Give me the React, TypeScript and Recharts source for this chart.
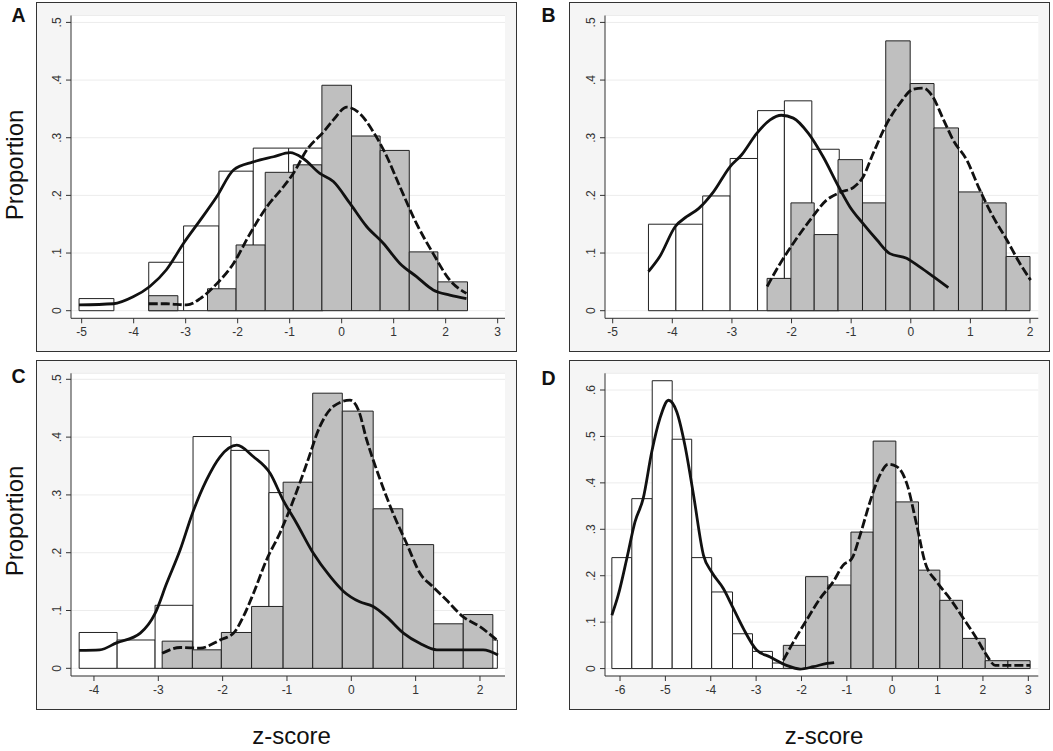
import React from 'react';
import { ComposedChart, Line, XAxis, YAxis, CartesianGrid, ReferenceArea } from 'recharts';

type Pt = [number, number];

// Panel A
const A_WHITE_EDGES = [-5.05, -4.38, -3.71, -3.04, -2.36, -1.7, -1.02, -0.36];
const A_WHITE_HEIGHTS = [0.021, 0, 0.084, 0.147, 0.242, 0.282, 0.282];
const A_GRAY_EDGES = [-3.71, -3.15, -2.58, -2.03, -1.47, -0.93, -0.38, 0.19, 0.74, 1.3, 1.85, 2.42];
const A_GRAY_HEIGHTS = [0.026, 0, 0.038, 0.114, 0.24, 0.253, 0.391, 0.303, 0.278, 0.102, 0.05];
const A_SOLID: Pt[] = [
  [-5.05, 0.01], [-4.39, 0.012], [-4.01, 0.024], [-3.69, 0.042], [-3.37, 0.071], [-3.04, 0.117],
  [-2.72, 0.157], [-2.4, 0.198], [-2.08, 0.244], [-1.7, 0.258], [-1.31, 0.267], [-0.99, 0.274],
  [-0.74, 0.264], [-0.42, 0.238], [-0.16, 0.224], [0.16, 0.186], [0.48, 0.146], [0.8, 0.117],
  [1.12, 0.082], [1.44, 0.059], [1.76, 0.036], [2.08, 0.027], [2.4, 0.021],
];
const A_DASHED: Pt[] = [
  [-3.71, 0.012], [-3.37, 0.012], [-2.98, 0.01], [-2.72, 0.021], [-2.4, 0.047], [-2.08, 0.082],
  [-1.76, 0.134], [-1.44, 0.18], [-1.12, 0.215], [-0.93, 0.238], [-0.67, 0.279], [-0.35, 0.31],
  [-0.16, 0.331], [0.1, 0.353], [0.35, 0.342], [0.61, 0.31], [0.87, 0.267], [1.12, 0.215],
  [1.44, 0.151], [1.76, 0.099], [2.08, 0.053], [2.4, 0.03],
];

// Panel B
const B_WHITE_EDGES = [-4.4, -3.94, -3.49, -3.03, -2.57, -2.12, -1.66, -1.2];
const B_WHITE_HEIGHTS = [0.15, 0.15, 0.199, 0.264, 0.347, 0.364, 0.28];
const B_GRAY_EDGES = [-2.41, -2.01, -1.62, -1.22, -0.81, -0.42, -0.01, 0.39, 0.8, 1.2, 1.6, 2.0];
const B_GRAY_HEIGHTS = [0.056, 0.187, 0.132, 0.262, 0.187, 0.468, 0.394, 0.317, 0.206, 0.187, 0.094];
const B_SOLID: Pt[] = [
  [-4.4, 0.068], [-4.21, 0.094], [-3.95, 0.146], [-3.76, 0.163], [-3.56, 0.177], [-3.31, 0.206],
  [-3.03, 0.25], [-2.84, 0.27], [-2.58, 0.308], [-2.36, 0.331], [-2.17, 0.339], [-1.97, 0.334],
  [-1.72, 0.308], [-1.47, 0.267], [-1.21, 0.215], [-1.02, 0.18], [-0.8, 0.151], [-0.57, 0.123],
  [-0.35, 0.099], [-0.07, 0.091], [0.15, 0.076], [0.38, 0.059], [0.63, 0.04],
];
const B_DASHED: Pt[] = [
  [-2.41, 0.042], [-2.19, 0.082], [-1.97, 0.117], [-1.69, 0.157], [-1.41, 0.192], [-1.19, 0.205],
  [-0.96, 0.214], [-0.8, 0.232], [-0.63, 0.273], [-0.4, 0.325], [-0.18, 0.36], [0.04, 0.384],
  [0.21, 0.386], [0.35, 0.374], [0.55, 0.331], [0.71, 0.296], [0.94, 0.261], [1.16, 0.209],
  [1.38, 0.163], [1.61, 0.123], [1.83, 0.082], [2.01, 0.053],
];

// Panel C
const C_WHITE_EDGES = [-4.23, -3.64, -3.05, -2.46, -1.87, -1.28, -0.68, -0.09, 0.5, 1.09, 1.68, 2.27];
const C_WHITE_HEIGHTS = [0.062, 0.049, 0.109, 0.401, 0.377, 0.304, 0.15, 0.11, 0.07, 0.035, 0.049];
const C_GRAY_EDGES = [-2.94, -2.47, -2.02, -1.55, -1.06, -0.6, -0.14, 0.34, 0.8, 1.28, 1.74, 2.2];
const C_GRAY_HEIGHTS = [0.047, 0.032, 0.062, 0.107, 0.322, 0.476, 0.445, 0.276, 0.214, 0.077, 0.093];
const C_SOLID: Pt[] = [
  [-4.23, 0.031], [-3.91, 0.032], [-3.65, 0.044], [-3.28, 0.061], [-3.05, 0.095], [-2.87, 0.147],
  [-2.66, 0.205], [-2.47, 0.268], [-2.25, 0.326], [-2.04, 0.366], [-1.78, 0.386], [-1.52, 0.366],
  [-1.26, 0.337], [-1.06, 0.291], [-0.85, 0.251], [-0.59, 0.199], [-0.33, 0.159], [-0.12, 0.133],
  [0.13, 0.115], [0.34, 0.107], [0.55, 0.089], [0.81, 0.061], [1.07, 0.043], [1.33, 0.032],
  [1.69, 0.032], [2.05, 0.032], [2.28, 0.023],
];
const C_DASHED: Pt[] = [
  [-2.94, 0.026], [-2.66, 0.036], [-2.35, 0.035], [-2.04, 0.049], [-1.83, 0.061], [-1.68, 0.089],
  [-1.52, 0.13], [-1.32, 0.187], [-1.11, 0.234], [-0.9, 0.291], [-0.69, 0.355], [-0.49, 0.418],
  [-0.28, 0.453], [-0.02, 0.464], [0.11, 0.447], [0.24, 0.395], [0.45, 0.326], [0.65, 0.268],
  [0.86, 0.216], [1.07, 0.164], [1.27, 0.141], [1.48, 0.118], [1.74, 0.089], [2.0, 0.072], [2.26, 0.049],
];

// Panel D
const D_WHITE_EDGES = [-6.18, -5.74, -5.29, -4.85, -4.42, -3.98, -3.52, -3.08, -2.64, -2.2];
const D_WHITE_HEIGHTS = [0.239, 0.366, 0.62, 0.494, 0.239, 0.165, 0.075, 0.037, 0.012];
const D_GRAY_EDGES = [-2.4, -1.91, -1.42, -0.91, -0.42, 0.08, 0.58, 1.05, 1.55, 2.05, 2.55, 3.04];
const D_GRAY_HEIGHTS = [0.05, 0.198, 0.18, 0.294, 0.49, 0.359, 0.212, 0.147, 0.065, 0.017, 0.017];
const D_SOLID: Pt[] = [
  [-6.18, 0.115], [-6.04, 0.158], [-5.85, 0.237], [-5.67, 0.316], [-5.49, 0.366], [-5.3, 0.467],
  [-5.12, 0.539], [-4.93, 0.578], [-4.75, 0.553], [-4.57, 0.481], [-4.38, 0.374], [-4.16, 0.244],
  [-3.98, 0.208], [-3.72, 0.172], [-3.5, 0.129], [-3.28, 0.086], [-2.99, 0.04], [-2.69, 0.025],
  [-2.33, 0.007], [-2.03, -0.001], [-1.74, 0.004], [-1.44, 0.011], [-1.28, 0.013],
];
const D_DASHED: Pt[] = [
  [-2.4, 0.018], [-2.18, 0.057], [-1.89, 0.104], [-1.59, 0.151], [-1.3, 0.187], [-1.08, 0.223],
  [-0.89, 0.237], [-0.71, 0.287], [-0.49, 0.359], [-0.27, 0.417], [-0.09, 0.44], [0.1, 0.435],
  [0.32, 0.399], [0.54, 0.309], [0.72, 0.23], [0.98, 0.187], [1.27, 0.151], [1.57, 0.108],
  [1.86, 0.065], [2.08, 0.029], [2.27, 0.007], [2.6, 0.007], [3.04, 0.007],
];

const TICKS_5 = [0, 0.1, 0.2, 0.3, 0.4, 0.5];
const TICKS_6 = [0, 0.1, 0.2, 0.3, 0.4, 0.5, 0.6];

const FONT = '"Liberation Sans", Arial, sans-serif';
const Y_W = 30;
const X_H = 30;

interface PanelSpec {
  box: [number, number, number, number];
  plot: [number, number, number, number];
  xDomain: [number, number];
  yDomain: [number, number];
  xTicks: number[];
  yTicks: number[];
  whiteEdges: number[];
  whiteHeights: number[];
  grayEdges: number[];
  grayHeights: number[];
  solid: Pt[];
  dashed: Pt[];
}

const PANELS: PanelSpec[] = [
  {
    box: [36, 2, 517, 352], plot: [71, 15.5, 505, 318.3],
    xDomain: [-5.205, 3.141], yDomain: [-0.0132, 0.512],
    xTicks: [-5, -4, -3, -2, -1, 0, 1, 2, 3], yTicks: TICKS_5,
    whiteEdges: A_WHITE_EDGES, whiteHeights: A_WHITE_HEIGHTS,
    grayEdges: A_GRAY_EDGES, grayHeights: A_GRAY_HEIGHTS,
    solid: A_SOLID, dashed: A_DASHED,
  },
  {
    box: [569, 2, 1050, 352], plot: [605, 15.5, 1038.3, 318.3],
    xDomain: [-5.129, 2.139], yDomain: [-0.0132, 0.512],
    xTicks: [-5, -4, -3, -2, -1, 0, 1, 2], yTicks: TICKS_5,
    whiteEdges: B_WHITE_EDGES, whiteHeights: B_WHITE_HEIGHTS,
    grayEdges: B_GRAY_EDGES, grayHeights: B_GRAY_HEIGHTS,
    solid: B_SOLID, dashed: B_DASHED,
  },
  {
    box: [36, 360, 517, 710], plot: [71, 373.3, 505, 676],
    xDomain: [-4.357, 2.389], yDomain: [-0.0133, 0.5104],
    xTicks: [-4, -3, -2, -1, 0, 1, 2], yTicks: TICKS_5,
    whiteEdges: C_WHITE_EDGES, whiteHeights: C_WHITE_HEIGHTS,
    grayEdges: C_GRAY_EDGES, grayHeights: C_GRAY_HEIGHTS,
    solid: C_SOLID, dashed: C_DASHED,
  },
  {
    box: [569, 360, 1050, 710], plot: [605, 373.3, 1038.3, 676],
    xDomain: [-6.331, 3.22], yDomain: [-0.016, 0.636],
    xTicks: [-6, -5, -4, -3, -2, -1, 0, 1, 2, 3], yTicks: TICKS_6,
    whiteEdges: D_WHITE_EDGES, whiteHeights: D_WHITE_HEIGHTS,
    grayEdges: D_GRAY_EDGES, grayHeights: D_GRAY_HEIGHTS,
    solid: D_SOLID, dashed: D_DASHED,
  },
];

const fmtY = (v: number) => (v === 0 ? '0' : v.toFixed(1).replace(/^0/, ''));

const YTick = (props: any) => {
  const { x, y, payload } = props;
  const bx = x - 3;
  return (
    <text x={bx} y={y} transform={`rotate(-90 ${bx} ${y})`} textAnchor="middle" fontSize={12} fill="#333" fontFamily={FONT}>
      {fmtY(payload.value)}
    </text>
  );
};

const toBins = (edges: number[], heights: number[]) =>
  heights
    .map((h, i) => ({ x1: edges[i], x2: edges[i + 1], h }))
    .filter((b) => b.h > 0);

const toPoints = (pts: Pt[]) => pts.map(([x, y]) => ({ x, y }));

const Panel = ({ spec }: { spec: PanelSpec }) => {
  const [bl, bt, br, bb] = spec.box;
  const [pl, pt, pr, pb] = spec.plot;
  const w = br - bl;
  const h = bb - bt;
  const margin = { top: pt - bt, right: br - pr, bottom: bb - pb - X_H, left: pl - bl - Y_W };
  const white = toBins(spec.whiteEdges, spec.whiteHeights);
  const gray = toBins(spec.grayEdges, spec.grayHeights);

  return (
    <div style={{ position: 'absolute', left: bl, top: bt, width: w, height: h }}>
      <div
        style={{
          position: 'absolute', left: 0, top: 0, width: w, height: h,
          boxSizing: 'border-box', border: '1px solid #333', background: '#f5f5f5',
        }}
      />
      <div style={{ position: 'absolute', left: 0, top: 0 }}>
        <ComposedChart width={w} height={h} margin={margin}>
          <CartesianGrid vertical={false} stroke="#ececec" fill="#ffffff" fillOpacity={1} />
          <XAxis
            type="number" dataKey="x" domain={spec.xDomain} ticks={spec.xTicks} allowDataOverflow
            interval={0} height={X_H} tickSize={5} tickMargin={4} stroke="#333"
            tick={{ fontSize: 12, fill: '#333', fontFamily: FONT }}
          />
          <YAxis
            type="number" domain={spec.yDomain} ticks={spec.yTicks} allowDataOverflow
            interval={0} width={Y_W} tickSize={5} stroke="#333" tick={<YTick />}
          />
          {white.map((b, i) => (
            <ReferenceArea
              key={`w${i}`} x1={b.x1} x2={b.x2} y1={0} y2={b.h}
              fill="#ffffff" fillOpacity={1} stroke="#222" strokeWidth={1}
            />
          ))}
          {gray.map((b, i) => (
            <ReferenceArea
              key={`g${i}`} x1={b.x1} x2={b.x2} y1={0} y2={b.h}
              fill="#bfbfbf" fillOpacity={1} stroke="#222" strokeWidth={1}
            />
          ))}
          <Line
            data={toPoints(spec.solid)} dataKey="y" type="monotone" stroke="#111"
            strokeWidth={2.8} dot={false} isAnimationActive={false}
          />
          <Line
            data={toPoints(spec.dashed)} dataKey="y" type="monotone" stroke="#111"
            strokeWidth={2.8} strokeDasharray="9 3" dot={false} isAnimationActive={false}
          />
        </ComposedChart>
      </div>
    </div>
  );
};

export default function App() {
  return (
    <div style={{ position: 'absolute', left: 0, top: 0, width: 1053, height: 751, background: '#fff', fontFamily: FONT }}>
      <svg width={1053} height={751} style={{ position: 'absolute', left: 0, top: 0 }}>
        <g fontFamily={FONT} fill="#111">
          <text x={18.5} y={22} fontSize={19.5} fontWeight="bold" textAnchor="middle">A</text>
          <text x={548.5} y={22} fontSize={19.5} fontWeight="bold" textAnchor="middle">B</text>
          <text x={18.5} y={383} fontSize={19.5} fontWeight="bold" textAnchor="middle">C</text>
          <text x={548.5} y={385} fontSize={19.5} fontWeight="bold" textAnchor="middle">D</text>
          <text x={23} y={165} fontSize={24} textAnchor="middle" transform="rotate(-90 23 165)">Proportion</text>
          <text x={23} y={521} fontSize={24} textAnchor="middle" transform="rotate(-90 23 521)">Proportion</text>
          <text x={291.5} y={744} fontSize={24} textAnchor="middle">z-score</text>
          <text x={824} y={744} fontSize={24} textAnchor="middle">z-score</text>
        </g>
      </svg>
      {PANELS.map((p, i) => (
        <Panel key={i} spec={p} />
      ))}
    </div>
  );
}
